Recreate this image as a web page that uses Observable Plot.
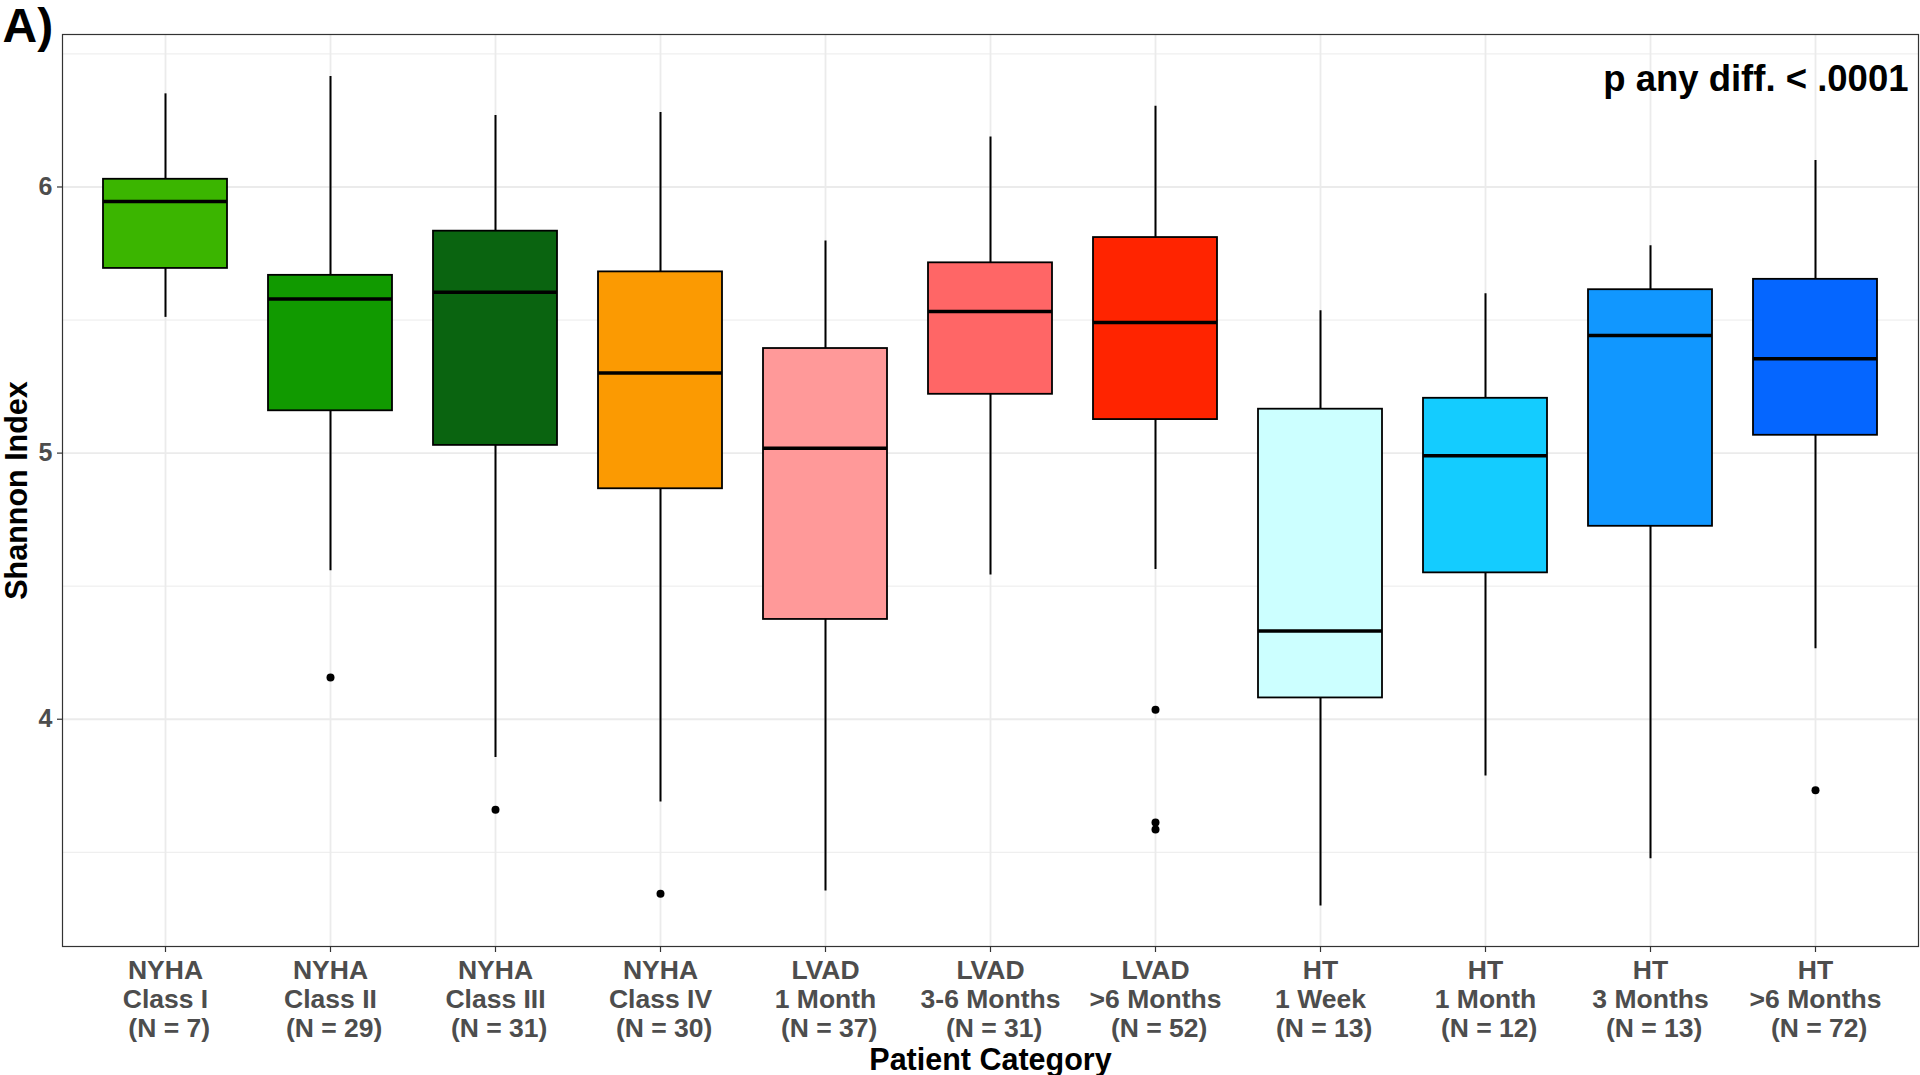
<!DOCTYPE html>
<html>
<head>
<meta charset="utf-8">
<script src="https://cdn.jsdelivr.net/npm/d3@7"></script>
<script src="https://cdn.jsdelivr.net/npm/@observablehq/plot@0.6"></script>
<style>
  html, body { margin: 0; padding: 0; background: #fff; }
  #chart svg { display: block; }
</style>
</head>
<body>
<div id="chart"></div>
<script>
// ---- data ----
const groups = ["NYHA", "NYHA", "NYHA", "NYHA", "LVAD", "LVAD", "LVAD", "HT", "HT", "HT", "HT"];
const subgroups = ["Class I", "Class II", "Class III", "Class IV", "1 Month", "3-6 Months", ">6 Months", "1 Week", "1 Month", "3 Months", ">6 Months"];
const counts = [7, 29, 31, 30, 37, 31, 52, 13, 12, 13, 72];
const colors = ["#3BB500", "#119A00", "#0A6410", "#FB9A02", "#FF9999", "#FF6666", "#FF2400", "#CCFFFF", "#14CCFF", "#1197FF", "#0566FF"];

const whiskerLow = [5.510, 4.558, 3.856, 3.689, 3.355, 4.542, 4.563, 3.298, 3.787, 3.476, 4.265];
const q1 =         [5.694, 5.159, 5.029, 4.866, 4.375, 5.221, 5.126, 4.080, 4.550, 4.725, 5.067];
const medians =    [5.945, 5.579, 5.604, 5.301, 5.018, 5.532, 5.491, 4.332, 4.990, 5.442, 5.355];
const q3 =         [6.029, 5.668, 5.834, 5.681, 5.393, 5.715, 5.810, 5.165, 5.206, 5.614, 5.653];
const whiskerHigh = [6.350, 6.415, 6.269, 6.280, 5.797, 6.188, 6.303, 5.535, 5.599, 5.779, 6.100];

const outlierIndex = [1, 2, 3, 6, 6, 6, 10];
const outlierValues = [4.157, 3.660, 3.344, 4.036, 3.612, 3.586, 3.733];

const yTicks = [4, 5, 6];
const yMinorTicks = [3.5, 4.5, 5.5, 6.5];
const pText = "p any diff. < .0001";

// ---- derived tables ----
const categories = groups.map((g, i) => `${g}\n${subgroups[i]}\n\u00a0(N = ${counts[i]})`);
const boxes = categories.map((c, i) => ({
  cat: c, lo: whiskerLow[i], q1: q1[i], med: medians[i], q3: q3[i], hi: whiskerHigh[i]
}));
const outliers = outlierIndex.map((k, i) => ({cat: categories[k], v: outlierValues[i]}));

const FONT = "'Liberation Sans', Arial, Helvetica, sans-serif";

const chart = Plot.plot({
  width: 1920,
  height: 1075,
  marginTop: 34,
  marginLeft: 62,
  marginRight: 2,
  marginBottom: 129,
  style: {fontFamily: FONT, background: "#fff"},
  x: {type: "band", domain: categories, paddingInner: 0.25, paddingOuter: 0.225, axis: null},
  y: {domain: [3.146, 6.573], axis: null},
  color: {domain: categories, range: colors},
  marks: [
    Plot.gridY(yMinorTicks, {stroke: "#EBEBEB", strokeOpacity: 1, strokeWidth: 1}),
    Plot.gridY(yTicks, {stroke: "#EBEBEB", strokeOpacity: 1, strokeWidth: 1.8}),
    Plot.gridX(categories, {stroke: "#EBEBEB", strokeOpacity: 1, strokeWidth: 1.8}),
    Plot.ruleX(boxes, {x: "cat", y1: "lo", y2: "hi", stroke: "#000", strokeWidth: 2}),
    Plot.barY(boxes, {x: "cat", y1: "q1", y2: "q3", fill: "cat", stroke: "#000", strokeWidth: 1.8}),
    Plot.tickY(boxes, {x: "cat", y: "med", stroke: "#000", strokeWidth: 3.5}),
    Plot.dot(outliers, {x: "cat", y: "v", r: 4, fill: "#000", stroke: null}),
    Plot.frame({stroke: "#333", strokeWidth: 1.2}),
    Plot.axisY(yTicks, {
      tickSize: 5, tickPadding: 5, stroke: "#333", strokeWidth: 1.2, tickFormat: d => String(d),
      fontSize: 25, fontWeight: "bold", fill: "#4D4D4D", label: null
    }),
    Plot.axisX(categories, {
      tickSize: 6, stroke: "#333", strokeWidth: 1.2, tickFormat: () => "", label: null
    }),
    Plot.text(categories, {
      x: d => d, text: d => d, frameAnchor: "bottom", textAnchor: "middle", lineAnchor: "top", dy: 12,
      fontSize: 26.5, fontWeight: "bold", fill: "#4D4D4D", lineHeight: 1.1
    }),
    Plot.text(["Patient Category"], {
      frameAnchor: "bottom", textAnchor: "middle", lineAnchor: "middle", dy: 114,
      fontSize: 30.5, fontWeight: "bold", fill: "#000"
    }),
    Plot.text(["Shannon Index"], {
      frameAnchor: "left", textAnchor: "middle", lineAnchor: "middle", rotate: -90, dx: -45,
      fontSize: 30.5, fontWeight: "bold", fill: "#000"
    }),
    Plot.text([pText], {
      frameAnchor: "top-right", textAnchor: "end", lineAnchor: "top", dx: -10, dy: 31,
      fontSize: 36.5, fontWeight: "bold", fill: "#000"
    }),
    Plot.text(["A)"], {
      frameAnchor: "top-left", textAnchor: "start", lineAnchor: "top", dx: -60, dy: -27,
      fontSize: 48, fontWeight: "bold", fill: "#000"
    })
  ]
});
document.getElementById("chart").appendChild(chart);
</script>
</body>
</html>
